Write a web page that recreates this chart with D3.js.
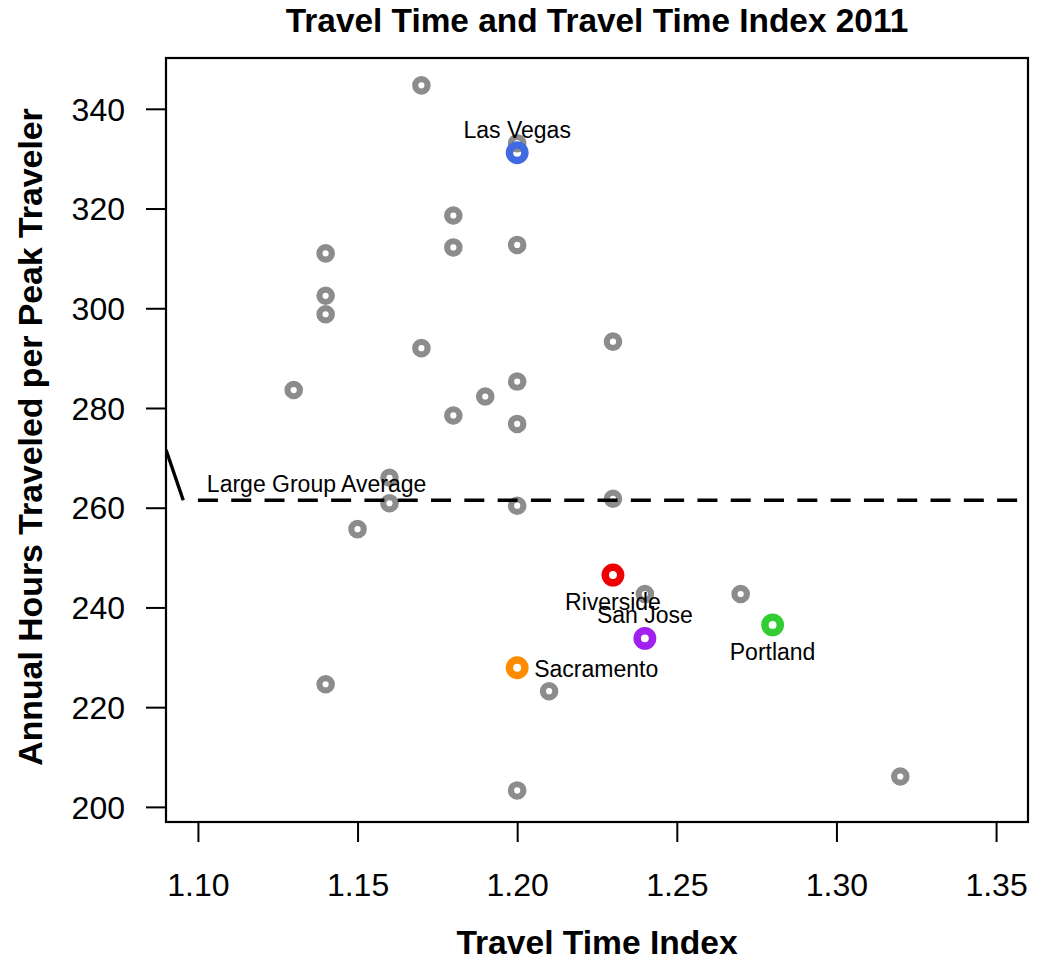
<!DOCTYPE html>
<html>
<head>
<meta charset="utf-8">
<script src="https://cdn.jsdelivr.net/npm/d3@7"></script>
<style>
  body { margin: 0; background: #fff; }
  svg { display: block; font-family: "Liberation Sans", Arial, Helvetica, sans-serif; }
</style>
</head>
<body>
<svg id="chart" width="1044" height="960"></svg>
<script>
// ---- data ----
const grayTTI   = [1.17, 1.20, 1.18, 1.18, 1.20, 1.14, 1.14, 1.14, 1.17, 1.23, 1.13, 1.20, 1.19, 1.18, 1.20, 1.16, 1.16, 1.20, 1.23, 1.15, 1.24, 1.27, 1.21, 1.14, 1.20, 1.32];
const grayHours = [344.7, 333.1, 318.6, 312.2, 312.7, 311.0, 302.5, 298.8, 292.0, 293.3, 283.6, 285.3, 282.3, 278.5, 276.8, 266.0, 260.9, 260.4, 261.8, 255.7, 242.7, 242.7, 223.2, 224.6, 203.3, 206.1];

const hiNames  = ["Las Vegas", "Riverside", "San Jose", "Portland", "Sacramento"];
const hiTTI    = [1.20, 1.23, 1.24, 1.28, 1.20];
const hiHours  = [331.2, 246.5, 233.8, 236.5, 227.9];
const hiColors = ["#4169E1", "#EE0000", "#A020F0", "#32CD32", "#FF8C00"];
const hiLabelPos = ["above", "below", "above", "below", "right"];

const avgHours = 261.5;
const avgLabel = "Large Group Average";
const diagX = [1.09, 1.0954];
const diagY = [271.6, 261.5];

const xTicks = [1.10, 1.15, 1.20, 1.25, 1.30, 1.35];
const yTicks = [200, 220, 240, 260, 280, 300, 320, 340];

const titleText = "Travel Time and Travel Time Index 2011";
const xTitle = "Travel Time Index";
const yTitle = "Annual Hours Traveled per Peak Traveler";

// ---- layout ----
const L = 166, R = 1028, T = 58, B = 822;
const svg = d3.select("#chart");

const x = d3.scaleLinear().domain([1.09, 1.36]).range([L, R]);
const y = d3.scaleLinear().domain([196.97, 350.19]).range([B, T]);

svg.append("defs").append("clipPath").attr("id", "clip")
  .append("rect").attr("x", L).attr("y", T).attr("width", R - L).attr("height", B - T);

// axes
const xAxis = svg.append("g").attr("transform", `translate(0,${B})`)
  .call(d3.axisBottom(x).tickValues(xTicks).tickFormat(d3.format(".2f")).tickSize(20).tickSizeOuter(0));
xAxis.select(".domain").remove();
xAxis.selectAll(".tick line").attr("stroke", "#000").attr("stroke-width", 2);
xAxis.selectAll(".tick text").attr("y", 74).attr("dy", 0).attr("font-size", 32).attr("fill", "#000");

const yAxis = svg.append("g").attr("transform", `translate(${L},0)`)
  .call(d3.axisLeft(y).tickValues(yTicks).tickFormat(d3.format("d")).tickSize(20).tickPadding(21).tickSizeOuter(0));
yAxis.select(".domain").remove();
yAxis.selectAll(".tick line").attr("stroke", "#000").attr("stroke-width", 2);
yAxis.selectAll(".tick text").attr("font-size", 32).attr("fill", "#000").attr("dy", "0.35em");

// box
svg.append("rect").attr("x", L).attr("y", T).attr("width", R - L).attr("height", B - T)
  .attr("fill", "none").attr("stroke", "#000").attr("stroke-width", 2.2);

const plot = svg.append("g").attr("clip-path", "url(#clip)");

// gray points
plot.selectAll("circle.gray").data(d3.range(grayTTI.length)).join("circle")
  .attr("class", "gray")
  .attr("cx", i => x(grayTTI[i])).attr("cy", i => y(grayHours[i]))
  .attr("r", 6.2).attr("fill", "none").attr("stroke", "#8C8C8C").attr("stroke-width", 6.2);

// average dashed line
plot.append("line")
  .attr("x1", x(1.10)).attr("x2", x(1.36))
  .attr("y1", y(avgHours)).attr("y2", y(avgHours))
  .attr("stroke", "#000").attr("stroke-width", 3.4).attr("stroke-dasharray", "20,13.3");

// diagonal segment
plot.append("line")
  .attr("x1", x(diagX[0])).attr("y1", y(diagY[0]))
  .attr("x2", x(diagX[1])).attr("y2", y(diagY[1]))
  .attr("stroke", "#000").attr("stroke-width", 3.4);

svg.append("text").attr("x", x(1.1028)).attr("y", y(avgHours) - 8)
  .attr("font-size", 23).attr("fill", "#000").text(avgLabel);

// highlighted points
plot.selectAll("circle.hi").data(d3.range(hiNames.length)).join("circle")
  .attr("class", "hi")
  .attr("cx", i => x(hiTTI[i])).attr("cy", i => y(hiHours[i]))
  .attr("r", 7.7).attr("fill", "none").attr("stroke", i => hiColors[i]).attr("stroke-width", 7.5);

// labels
svg.selectAll("text.lab").data(d3.range(hiNames.length)).join("text")
  .attr("class", "lab")
  .attr("font-size", 23).attr("fill", "#000")
  .attr("x", i => x(hiTTI[i]) + (hiLabelPos[i] === "right" ? 17 : 0))
  .attr("y", i => {
    const cy = y(hiHours[i]);
    if (hiLabelPos[i] === "above") return cy - 15;
    if (hiLabelPos[i] === "below") return cy + 35;
    return cy + 9;
  })
  .attr("text-anchor", i => hiLabelPos[i] === "right" ? "start" : "middle")
  .text(i => hiNames[i]);

// titles
svg.append("text").attr("x", (L + R) / 2).attr("y", 32).attr("text-anchor", "middle")
  .attr("font-size", 33.4).attr("font-weight", "bold").text(titleText);
svg.append("text").attr("x", (L + R) / 2).attr("y", 954).attr("text-anchor", "middle")
  .attr("font-size", 33.6).attr("font-weight", "bold").text(xTitle);
svg.append("text").attr("transform", `translate(42,437) rotate(-90)`)
  .attr("text-anchor", "middle")
  .attr("font-size", 33.8).attr("font-weight", "bold").text(yTitle);
</script>
</body>
</html>
